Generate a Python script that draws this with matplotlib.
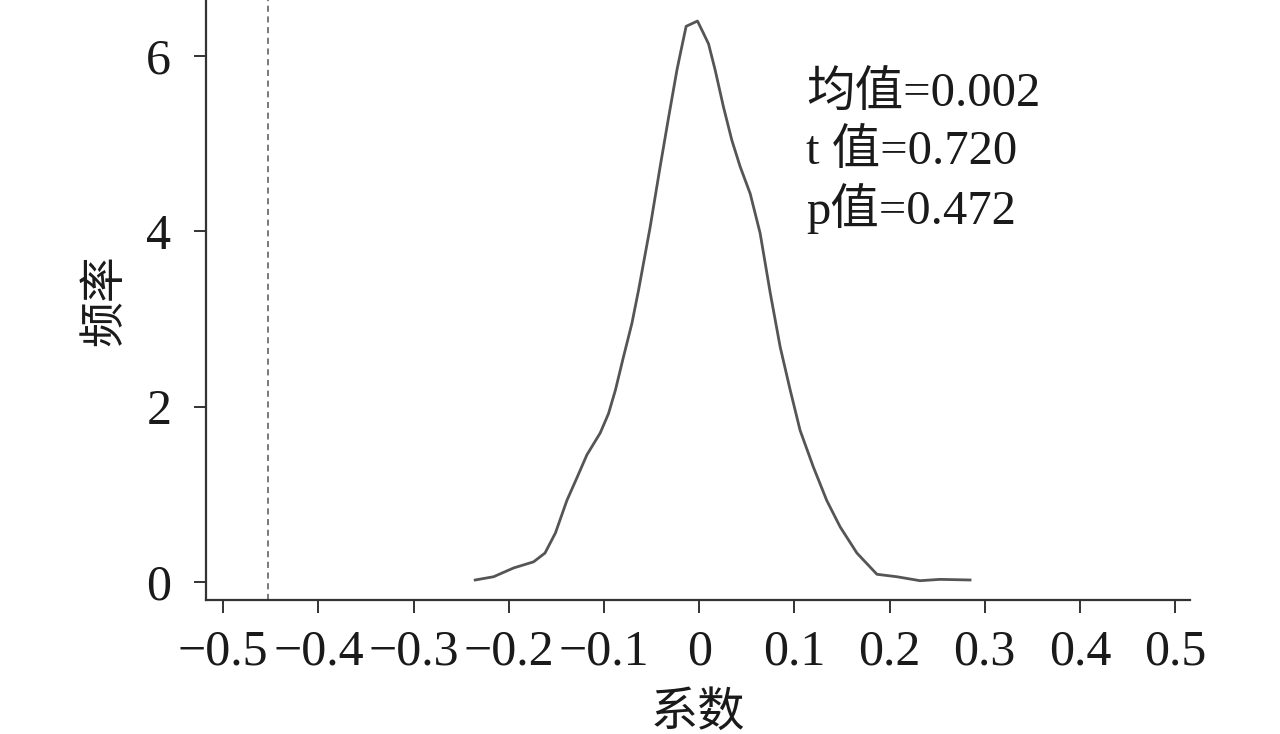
import matplotlib
matplotlib.use("Agg")
import matplotlib.pyplot as plt

plt.rcParams['font.family'] = ['Liberation Serif', 'Noto Sans CJK SC']
plt.rcParams['axes.unicode_minus'] = True

# 系数核密度曲线
coef_x = [-0.2353, -0.216, -0.195, -0.174, -0.162, -0.151, -0.139, -0.128, -0.118,
          -0.104, -0.0953, -0.088, -0.0795, -0.0707, -0.0637, -0.0515, -0.041, -0.032,
          -0.0234, -0.019, -0.0137, -0.0077, -0.0018, 0.0045, 0.0098, 0.0168, 0.0255,
          0.0343, 0.043, 0.0536, 0.064, 0.0746, 0.0851, 0.0956, 0.106, 0.120, 0.134,
          0.148, 0.1657, 0.1867, 0.2077, 0.232, 0.253, 0.2845]
density = [0.023, 0.06, 0.16, 0.23, 0.33, 0.56, 0.93, 1.20, 1.45,
           1.70, 1.92, 2.19, 2.57, 2.95, 3.33, 4.05, 4.74, 5.31,
           5.84, 6.07, 6.34, 6.37, 6.40, 6.26, 6.14, 5.84, 5.42,
           5.04, 4.74, 4.43, 3.98, 3.30, 2.68, 2.19, 1.73, 1.31, 0.93,
           0.63, 0.33, 0.088, 0.06, 0.015, 0.03, 0.023]
baseline_coef = -0.4527
x_ticks = [-0.5, -0.4, -0.3, -0.2, -0.1, 0, 0.1, 0.2, 0.3, 0.4, 0.5]
x_tick_labels = ["\u22120.5", "\u22120.4", "\u22120.3", "\u22120.2", "\u22120.1", "0",
                 "0.1", "0.2", "0.3", "0.4", "0.5"]
y_ticks = [0, 2, 4, 6]
stats_text = ["均值=0.002", "t 值=0.720", "p值=0.472"]

fig = plt.figure(figsize=(12.8, 7.34), dpi=100)
ax = fig.add_axes([0.161, 0.1826, 0.769, 0.8174])

ax.plot(coef_x, density, color="#555555", lw=2.0, solid_joinstyle="round")
ax.axvline(baseline_coef, color="#555555", lw=1.1, linestyle=(0, (4, 3)))

ax.set_xlim(-0.518, 0.516)
ax.set_ylim(-0.205, 6.64)
ax.set_xticks(x_ticks)
ax.set_xticklabels(x_tick_labels)
ax.set_yticks(y_ticks)

for side in ["top", "right"]:
    ax.spines[side].set_visible(False)
for side in ["left", "bottom"]:
    ax.spines[side].set_color("#333333")
    ax.spines[side].set_linewidth(1.6)
ax.tick_params(axis="both", direction="out", length=9, width=1.4, color="#333333",
               labelsize=36, labelcolor="#1a1a1a")
ax.tick_params(axis="x", pad=12)
ax.tick_params(axis="y", pad=16)

ax.set_xlabel("系数", fontsize=34, color="#1a1a1a", labelpad=12)
ax.set_ylabel("频率", fontsize=33, color="#1a1a1a", labelpad=14)

for i, s in enumerate(stats_text):
    ax.text(0.112, 5.56 - i * 0.65, s, fontsize=35, color="#1a1a1a", va="center", ha="left")

fig.savefig("out.png", dpi=100)
